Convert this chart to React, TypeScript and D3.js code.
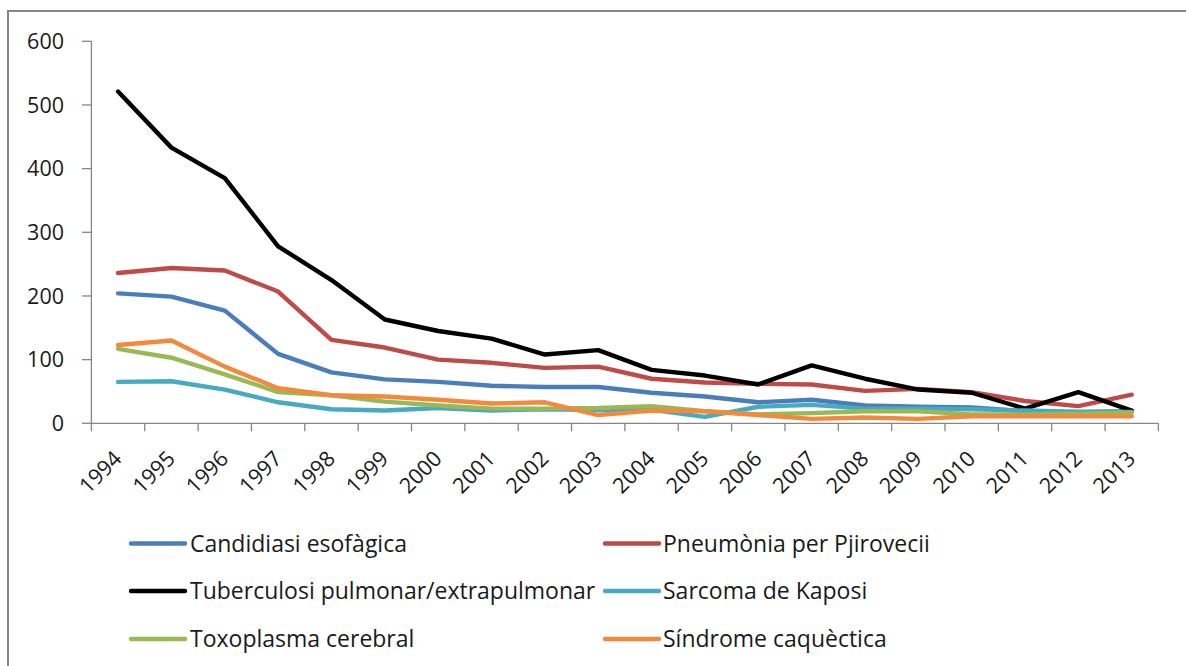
import React from 'react';
import * as d3 from 'd3';

const years = ['1994','1995','1996','1997','1998','1999','2000','2001','2002','2003','2004','2005','2006','2007','2008','2009','2010','2011','2012','2013'];
const candidiasi = [204, 199, 177, 109, 80, 69, 65, 59, 57, 57, 48, 42, 33, 37, 28, 26, 25, 19, 18, 19];
const pneumonia = [236, 244, 240, 207, 131, 119, 100, 95, 87, 89, 70, 64, 62, 61, 51, 54, 49, 35, 27, 45];
const tuberculosi = [521, 433, 385, 278, 225, 163, 145, 133, 108, 115, 84, 75, 61, 91, 70, 53, 48, 23, 49, 20];
const sarcoma = [65, 66, 53, 33, 22, 20, 24, 20, 22, 21, 21, 10, 26, 29, 23, 23, 22, 20, 18, 18];
const toxoplasma = [117, 103, 77, 49, 44, 34, 28, 23, 23, 24, 27, 19, 14, 16, 19, 19, 14, 14, 15, 17];
const sindrome = [123, 130, 89, 55, 44, 42, 37, 31, 33, 13, 20, 19, 13, 7, 9, 7, 11, 11, 11, 11];
const yTicks = [0, 100, 200, 300, 400, 500, 600];

const seriesNames = ['Candidiasi esofàgica', 'Pneumònia per Pjirovecii', 'Tuberculosi pulmonar/extrapulmonar', 'Sarcoma de Kaposi', 'Toxoplasma cerebral', 'Síndrome caquèctica'];
const seriesColors = ['#4A7EBB', '#BE4B48', '#000000', '#46AAC5', '#98B954', '#F3893C'];
const seriesValues = [candidiasi, pneumonia, tuberculosi, sarcoma, toxoplasma, sindrome];
const FONT = '"Open Sans", "Noto Sans", sans-serif';
const TEXT = '#1a1a1a';
const AXIS = '#868686';

export default function App() {
  const W = 1186, H = 666;
  const x = d3.scaleBand<string>().domain(years).range([91.4, 1158.4]).padding(0);
  const y = d3.scaleLinear().domain([0, 600]).range([423.3, 41.3]);
  const bw = x.bandwidth();
  const line = d3.line<number>()
    .x((_, i) => (x(years[i]) as number) + bw / 2)
    .y(d => y(d));

  const legendCols = [[131, 185, 190], [605, 659, 663]];
  const legendRows = [543.5, 591, 639];

  return (
    <svg width={W} height={H} style={{ position: 'absolute', left: 0, top: 0, background: '#fff' }} fontFamily={FONT}>
      <rect x={0} y={0} width={W} height={H} fill="#fff" />
      <rect x={8} y={11} width={W + 20} height={H + 20} fill="none" stroke={AXIS} strokeWidth={2} />
      {/* y axis */}
      <line x1={91.4} x2={91.4} y1={y(600)} y2={y(0)} stroke={AXIS} strokeWidth={1.3} />
      {yTicks.map(t => (
        <g key={t}>
          <line x1={82} x2={91.4} y1={y(t)} y2={y(t)} stroke={AXIS} strokeWidth={1.3} />
          <text x={64} y={y(t)} dy="0.36em" textAnchor="end" fontSize={21.5} fill={TEXT}>{t}</text>
        </g>
      ))}
      {/* x axis */}
      <line x1={91.4} x2={1158.4} y1={y(0)} y2={y(0)} stroke={AXIS} strokeWidth={1.3} />
      {d3.range(years.length + 1).map(i => {
        const xx = 91.4 + i * bw;
        return <line key={i} x1={xx} x2={xx} y1={y(0)} y2={y(0) + 8} stroke={AXIS} strokeWidth={1.3} />;
      })}
      {years.map(yr => {
        const cx = (x(yr) as number) + bw / 2 + 5;
        const cy = 460;
        return (
          <text key={yr} x={cx} y={cy} textAnchor="end" fontSize={21.5} fill={TEXT}
            transform={`rotate(-45 ${cx} ${cy})`}>{yr}</text>
        );
      })}
      {/* series */}
      {seriesValues.map((vals, s) => (
        <path key={s} d={line(vals) as string} fill="none" stroke={seriesColors[s]} strokeWidth={4.4}
          strokeLinejoin="round" strokeLinecap="round" />
      ))}
      {/* legend */}
      {seriesNames.map((name, s) => {
        const col = legendCols[s % 2];
        const ry = legendRows[Math.floor(s / 2)];
        return (
          <g key={name}>
            <line x1={col[0]} x2={col[1]} y1={ry} y2={ry} stroke={seriesColors[s]} strokeWidth={4.4} strokeLinecap="round" />
            <text x={col[2]} y={ry} dy="0.36em" fontSize={23} fill={TEXT}>{name}</text>
          </g>
        );
      })}
    </svg>
  );
}
